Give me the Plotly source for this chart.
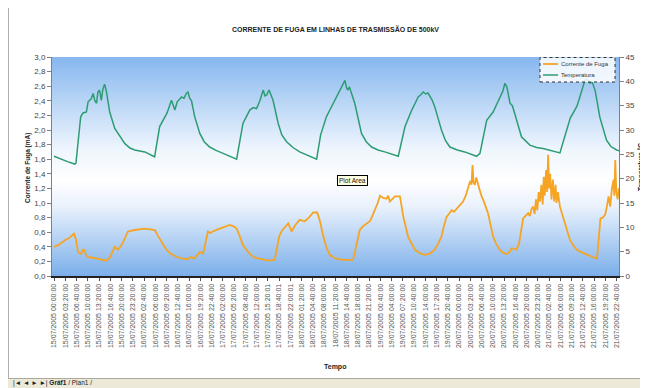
import base64
import pandas as pd
import plotly.graph_objects as go

# ---------------- data ----------------
START = "2005-07-15 00:00:00"

temp_hours = [0, 2, 4, 6.1, 6.5, 7.2, 7.9, 8.6, 9.6, 10.1, 11.0, 11.6, 12.1, 12.6, 13.0, 13.5, 14.0, 14.5, 15.0, 15.5,
              16.5, 18.0, 19.5, 21.0, 22.5, 23.9, 26.9, 28.5, 29.8, 31.3, 32.8, 33.5, 34.8, 35.3, 35.8, 36.5, 37.8,
              38.5, 39.2, 39.7, 40.2, 40.7, 41.7, 43.2, 44.5, 46.1, 48.0, 50.1, 52.0, 54.1, 56.0, 57.0, 58.0, 59.0,
              60.0, 61.0, 62.0, 62.5, 63.0, 63.7, 64.9, 66.4, 67.5, 68.9, 70.8, 72.8, 75.0, 77.8, 79.0, 80.7, 81.5,
              82.7, 84.0, 85.2, 86.2, 86.7, 87.1, 87.5, 88.2, 89.1, 91.1, 92.5, 94.1, 96.0, 98.0, 100.0, 102.0,
              104.0, 105.0, 106.0, 107.0, 107.9, 108.6, 109.4, 110.1, 110.8, 112.0, 112.8, 114.8, 116.0, 117.3,
              119.5, 121.7, 123.5, 125.2, 126.2, 128.2, 130.1, 131.0, 132.1, 133.0, 133.6, 134.2, 135.1, 135.8,
              136.5, 138.5, 141.0, 143.0, 144.9, 147.5, 149.9, 151.9, 153.0, 154.3, 155.0, 155.8, 156.5, 157.3,
              158.0, 158.8, 159.4, 160.3, 161.0, 161.7, 163.7, 165.0, 166.7, 167.6]
temp_vals = [24.6, 24.0, 23.5, 23.0, 23.2, 28.0, 32.7, 33.5, 33.7, 35.8, 36.4, 37.5, 36.0, 35.5, 37.8, 38.2, 36.1, 38.5,
             39.4, 38.0, 33.7, 30.3, 28.6, 27.2, 26.3, 25.9, 25.5, 25.0, 24.5, 30.7, 32.7, 33.5, 36.1, 35.0, 34.1,
             35.8, 36.8, 36.5, 37.5, 37.8, 36.5, 36.1, 32.7, 29.3, 27.6, 26.5, 25.8, 25.2, 24.7, 24.0, 31.4, 32.8,
             34.1, 34.6, 34.4, 36.0, 38.2, 37.0, 37.2, 38.2, 36.1, 31.4, 29.0, 27.6, 26.4, 25.5, 24.8, 24.0, 29.0,
             32.7, 33.8, 35.5, 37.0, 38.9, 40.2, 38.6, 38.2, 38.9, 37.5, 35.5, 29.3, 27.6, 26.5, 25.9, 25.5, 25.0,
             24.6, 30.7, 32.5, 34.1, 35.5, 36.8, 37.2, 37.8, 37.4, 37.6, 36.2, 34.8, 30.0, 27.8, 26.5, 25.9, 25.5,
             25.0, 24.6, 25.2, 32.0, 33.7, 35.0, 36.8, 38.0, 39.6, 38.8, 35.5, 35.0, 33.4, 28.6, 26.9, 26.4, 26.2,
             25.7, 25.3, 30.0, 32.5, 34.1, 35.0, 36.8, 38.5, 40.2, 40.4, 39.6, 39.9, 38.2, 35.5, 32.7, 27.9, 26.6,
             25.9, 25.7]

curr_hours = [0, 1.5, 3.2, 4.5, 5.9, 6.5, 7.1, 8.0, 8.6, 9.1, 9.5, 10.1, 11.5, 13.0, 14.5, 15.5, 16.5, 17.3, 18.0,
              18.9, 20.0, 21.0, 21.9, 23.9, 25.5, 26.9, 28.5, 29.9, 30.8, 31.8, 33.0, 34.3, 36.0, 37.8, 39.5, 40.7,
              41.5, 42.5, 43.2, 44.2, 44.9, 45.6, 46.3, 47.0, 49.1, 50.5, 52.1, 53.2, 54.1, 55.0, 56.0, 57.5, 59.0,
              60.5, 62.0, 63.5, 65.4, 66.0, 66.7, 67.5, 68.5, 69.4, 70.4, 71.5, 72.8, 74.3, 75.5, 76.8, 78.0, 78.8,
              79.8, 80.8, 81.7, 83.0, 84.2, 86.0, 88.6, 89.5, 90.6, 91.5, 92.6, 93.6, 94.3, 95.1, 95.9, 96.6, 97.5,
              98.5, 99.0, 99.5, 100.2, 101.0, 102.5, 103.5, 104.9, 106.0, 106.9, 108.5, 109.9, 111.5, 112.8, 113.8,
              114.8, 115.5, 116.3, 117.0, 117.8, 118.5, 119.3, 120.3, 121.2, 122.0, 122.7, 123.3, 123.7, 124.0,
              124.3, 124.7, 125.1, 125.6, 126.0, 126.7, 127.2, 128.6, 130.1, 131.0, 132.1, 133.0, 134.1, 135.0,
              135.6, 136.3, 137.0, 137.8, 138.3, 139.0, 140.5, 141.0, 141.5, 142.0, 142.4, 142.8, 143.2, 143.6,
              144.0, 144.4, 144.8, 145.1, 145.4, 145.8, 146.1, 146.4, 146.7, 147.0, 147.4, 147.8, 148.2, 148.6,
              148.9, 149.3, 149.9, 150.6, 151.4, 152.2, 152.9, 154.0, 154.9, 156.5, 157.9, 159.5, 160.9, 161.3,
              161.9, 162.6, 163.3, 163.8, 164.3, 164.8, 165.3, 165.8, 166.0, 166.3, 166.6, 167.0, 167.3, 167.6]
curr_vals = [0.40, 0.43, 0.49, 0.52, 0.58, 0.50, 0.33, 0.30, 0.36, 0.35, 0.28, 0.26, 0.25, 0.24, 0.22, 0.21, 0.25,
             0.33, 0.40, 0.36, 0.42, 0.52, 0.61, 0.63, 0.64, 0.65, 0.64, 0.63, 0.55, 0.47, 0.38, 0.31, 0.27, 0.24,
             0.23, 0.26, 0.24, 0.29, 0.33, 0.31, 0.45, 0.61, 0.59, 0.61, 0.65, 0.67, 0.70, 0.68, 0.65, 0.55, 0.42,
             0.33, 0.26, 0.24, 0.22, 0.21, 0.22, 0.38, 0.54, 0.62, 0.68, 0.72, 0.61, 0.70, 0.77, 0.75, 0.80, 0.87,
             0.87, 0.75, 0.54, 0.38, 0.29, 0.25, 0.23, 0.22, 0.22, 0.40, 0.63, 0.68, 0.72, 0.75, 0.82, 0.90, 1.00,
             1.10, 1.07, 1.06, 1.10, 1.02, 1.06, 1.09, 1.09, 0.81, 0.54, 0.43, 0.36, 0.31, 0.29, 0.31, 0.36, 0.44,
             0.54, 0.68, 0.81, 0.85, 0.90, 0.88, 0.92, 0.97, 1.02, 1.10, 1.22, 1.30, 1.25, 1.52, 1.28, 1.25, 1.35,
             1.28, 1.20, 1.09, 1.04, 0.86, 0.54, 0.44, 0.36, 0.32, 0.30, 0.33, 0.38, 0.37, 0.36, 0.45, 0.62, 0.79,
             0.86, 0.82, 0.92, 0.95, 0.85, 1.05, 0.90, 1.15, 1.02, 1.25, 0.98, 1.36, 1.10, 1.45, 1.15, 1.66, 1.20,
             1.40, 1.05, 1.32, 1.02, 1.25, 1.00, 1.15, 0.95, 0.85, 0.72, 0.60, 0.49, 0.41, 0.36, 0.32, 0.29, 0.26,
             0.24, 0.50, 0.79, 0.80, 0.84, 0.95, 1.09, 0.95, 1.20, 1.32, 1.10, 1.59, 1.15, 1.05, 1.20, 1.09]

tick_labels = [
    "15/07/2005 00:00:00", "15/07/2005 03:20:00", "15/07/2005 06:40:00", "15/07/2005 10:00:00",
    "15/07/2005 13:20:00", "15/07/2005 16:40:00", "15/07/2005 20:00:00", "15/07/2005 23:20:00",
    "16/07/2005 02:40:00", "16/07/2005 06:00:00", "16/07/2005 09:20:00", "16/07/2005 12:40:00",
    "16/07/2005 16:00:00", "16/07/2005 19:20:00", "16/07/2005 22:40:00", "17/07/2005 02:00:00",
    "17/07/2005 05:20:00", "17/07/2005 08:40:00", "17/07/2005 12:00:00", "17/07/2005 15:20:01",
    "17/07/2005 18:40:01", "17/07/2005 22:00:01", "18/07/2005 01:20:00", "18/07/2005 04:40:00",
    "18/07/2005 08:00:00", "18/07/2005 11:20:00", "18/07/2005 14:40:00", "18/07/2005 18:00:00",
    "18/07/2005 21:20:00", "19/07/2005 00:40:00", "19/07/2005 04:00:00", "19/07/2005 07:20:00",
    "19/07/2005 10:40:00", "19/07/2005 14:00:00", "19/07/2005 17:20:00", "19/07/2005 20:40:00",
    "20/07/2005 00:00:00", "20/07/2005 03:20:00", "20/07/2005 06:40:00", "20/07/2005 10:00:00",
    "20/07/2005 13:20:00", "20/07/2005 16:40:00", "20/07/2005 20:00:00", "20/07/2005 23:20:00",
    "21/07/2005 02:40:00", "21/07/2005 06:00:00", "21/07/2005 09:20:00", "21/07/2005 12:40:00",
    "21/07/2005 16:00:00", "21/07/2005 19:20:00", "21/07/2005 22:40:00",
]

# ---------------- geometry helpers ----------------
# The page body adds an 8px margin, so the figure is 8px smaller and every
# screen position (measured on the 648x388 reference) is shifted by 8px.
OFF = 8
W, H = 648 - OFF, 388 - OFF
L, R, T, B = 52 - OFF, 619 - OFF, 57 - OFF, 276 - OFF


def fx(x):
    return (x - OFF - L) / (R - L)


def fy(y):
    return (B - (y - OFF)) / (B - T)


start = pd.Timestamp(START)
t_temp = [str(start + pd.Timedelta(hours=h)) for h in temp_hours]
t_curr = [str(start + pd.Timedelta(hours=h)) for h in curr_hours]
tickvals = [str(v) for v in pd.to_datetime(tick_labels, format="%d/%m/%Y %H:%M:%S")]

ORANGE = "#f5a424"
GREEN = "#2e9c72"
FONT = "Liberation Sans, Arial, sans-serif"

fig = go.Figure()
fig.add_trace(go.Scatter(x=t_curr, y=curr_vals, mode="lines", name="Corrente de Fuga",
                         line=dict(color=ORANGE, width=1.8), showlegend=False))
fig.add_trace(go.Scatter(x=t_temp, y=temp_vals, mode="lines", name="Temperatura", yaxis="y2",
                         line=dict(color=GREEN, width=1.5), showlegend=False))

svg = ('<svg xmlns="http://www.w3.org/2000/svg" width="100" height="100" viewBox="0 0 100 100" '
       'preserveAspectRatio="none"><defs><linearGradient id="g" x1="0" y1="0" x2="0" y2="1">'
       '<stop offset="0" stop-color="#86b7ef"/><stop offset="0.42" stop-color="#eef5fd"/>'
       '<stop offset="0.56" stop-color="#ffffff"/><stop offset="0.68" stop-color="#eaf2fc"/>'
       '<stop offset="1" stop-color="#7aaeea"/></linearGradient></defs>'
       '<rect width="100" height="100" fill="url(#g)"/></svg>')
bg_src = "data:image/svg+xml;base64," + base64.b64encode(svg.encode()).decode()

tickfont = dict(family=FONT, size=8, color="#444444")

fig.update_layout(
    width=W, height=H,
    margin=dict(l=L, r=W - R, t=T, b=H - B),
    paper_bgcolor="white",
    plot_bgcolor="rgba(0,0,0,0)",
    separators=",.",
    showlegend=False,
    font=dict(family=FONT, size=8, color="#333333"),
    title=dict(text="<b>CORRENTE DE FUGA EM LINHAS DE TRASMISSÃO DE 500kV</b>",
               x=0.5, xref="paper", xanchor="center", y=1 - (30 - OFF) / H, yanchor="middle",
               font=dict(family=FONT, size=7, color="#222222")),
    xaxis=dict(type="date",
               range=[str(start - pd.Timedelta(hours=0.6)), str(start + pd.Timedelta(hours=167.4))],
               tickmode="array", tickvals=tickvals, ticktext=tick_labels, tickangle=-90,
               tickfont=dict(family=FONT, size=7, color="#555555"),
               showgrid=False, zeroline=False, showline=True, linecolor="#222222", linewidth=2,
               ticks="outside", ticklen=3, tickcolor="#555555"),
    yaxis=dict(range=[0, 3.0], dtick=0.2, tick0=0, tickformat=".1f", tickfont=tickfont,
               showgrid=False, zeroline=False, showline=True, linecolor="#808080", linewidth=1,
               ticks="outside", ticklen=4, tickcolor="#808080"),
    yaxis2=dict(range=[0, 45], dtick=5, tick0=0, overlaying="y", side="right", tickfont=tickfont,
                showgrid=False, zeroline=False, showline=True, linecolor="#808080", linewidth=1,
                ticks="outside", ticklen=4, tickcolor="#808080"),
    images=[dict(source=bg_src, xref="x domain", yref="y domain", x=0, y=1, sizex=1, sizey=1,
                 xanchor="left", yanchor="top", sizing="stretch", layer="below")],
)

annotations = [
    dict(text="<b>Corrente de Fuga (mA)</b>", x=fx(28), y=fy(168), textangle=-90, xanchor="center",
         font=dict(family=FONT, size=6.5, color="#222222")),
    dict(text="<b>Temperatura °C</b>", x=fx(641), y=fy(167), textangle=-90, xanchor="center",
         font=dict(family=FONT, size=6.5, color="#222222")),
    dict(text="<b>Tempo</b>", x=fx(335), y=fy(367), xanchor="center",
         font=dict(family=FONT, size=7, color="#222222")),
    dict(text="Plot Area", x=fx(352.5), y=fy(180), xanchor="center", bgcolor="#ffffe1",
         bordercolor="#000000", borderwidth=1, borderpad=1,
         font=dict(family=FONT, size=6.5, color="#111111")),
    dict(text="Corrente de Fuga", x=fx(559), y=fy(64), xanchor="left",
         font=dict(family=FONT, size=6, color="#333333")),
    dict(text="Temperatura", x=fx(559), y=fy(75), xanchor="left",
         font=dict(family=FONT, size=6, color="#333333")),
    dict(text="|◄ ◄ ► ►| <b>Gráf1</b> / Plan1 /", x=fx(11), y=fy(383), xanchor="left",
         font=dict(family=FONT, size=6.5, color="#222222")),
]
for a in annotations:
    a.setdefault("xref", "paper")
    a.setdefault("yref", "paper")
    a.setdefault("showarrow", False)
    a.setdefault("yanchor", "middle")
    fig.add_annotation(**a)

shapes = [
    # legend box (dotted)
    dict(type="rect", x0=fx(540), x1=fx(615), y0=fy(82), y1=fy(57.5),
         line=dict(color="#333333", width=1, dash="dot"), fillcolor="rgba(255,255,255,0.85)"),
    dict(type="line", x0=fx(543), x1=fx(558), y0=fy(64), y1=fy(64), line=dict(color=ORANGE, width=1.8)),
    dict(type="line", x0=fx(543), x1=fx(558), y0=fy(75), y1=fy(75), line=dict(color=GREEN, width=1.5)),
    # sheet tab strip
    dict(type="rect", x0=fx(OFF), x1=fx(648), y0=fy(388), y1=fy(378.5),
         line=dict(width=0), fillcolor="#ece9d8"),
    dict(type="line", x0=fx(OFF), x1=fx(648), y0=fy(378.5), y1=fy(378.5), line=dict(color="#aca899", width=1)),
    # window frame line on the left
    dict(type="line", x0=fx(8.5), x1=fx(8.5), y0=fy(OFF), y1=fy(378), line=dict(color="#b0b0b0", width=1)),
]
for s in shapes:
    s.setdefault("xref", "paper")
    s.setdefault("yref", "paper")
    s.setdefault("layer", "above")
    fig.add_shape(**s)

fig.write_html("out.html")
